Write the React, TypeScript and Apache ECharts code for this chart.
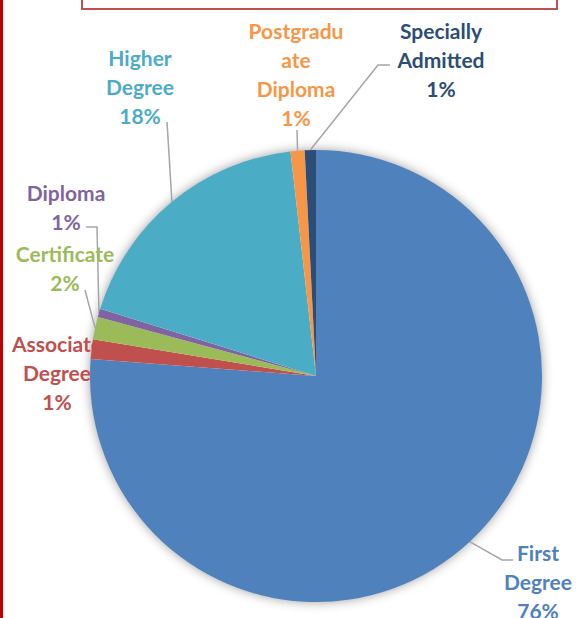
import React, { useEffect, useRef } from "react";
import * as echarts from "echarts";

// ---- data ----
const categories = [
  "First Degree",
  "Associate Degree",
  "Certificate",
  "Diploma",
  "Higher Degree",
  "Postgraduate Diploma",
  "Specially Admitted",
];
const shares = [76.2, 1.4, 1.6, 0.6, 18.4, 1.0, 0.8];
const labelTexts = [
  "First\nDegree",
  "Associate\nDegree",
  "Certificate",
  "Diploma",
  "Higher\nDegree",
  "Postgradu\nate\nDiploma",
  "Specially\nAdmitted",
];

// ---- styles / layout ----
const colors = ["#4F81BD", "#C0504D", "#9BBB59", "#8064A2", "#4BACC6", "#F79646", "#2C4D75"];
const CX = 316;
const CY = 376;
const R = 226;
// label block centres and leader-line bends (after the slice edge point)
const labelPlacement: { x: number; y: number; bends: number[][] | null }[] = [
  { x: 538, y: 581, bends: [[502, 560], [513, 560]] },
  { x: 57, y: 372, bends: null },
  { x: 65, y: 268, bends: [[85, 290]] },
  { x: 66, y: 207, bends: [[97, 227], [86, 227]] },
  { x: 140, y: 86, bends: [[167, 122]] },
  { x: 296, y: 74, bends: [[297, 130]] },
  { x: 441, y: 59, bends: [[378, 65], [390, 65]] },
];

export default function App() {
  const ref = useRef<HTMLDivElement>(null);
  useEffect(() => {
    if (!ref.current) return;
    const chart = echarts.init(ref.current, undefined, { renderer: "svg" });
    const data = categories.map((name, i) => ({
      name,
      value: shares[i],
      itemStyle: { color: colors[i] },
      label: { color: colors[i] },
      labelLine: { show: labelPlacement[i].bends !== null },
    }));
    chart.setOption({
      animation: false,
      backgroundColor: "#ffffff",
      graphic: [
        {
          type: "rect",
          z: 0,
          shape: { x: 0, y: 0, width: 3, height: 618 },
          style: { fill: "#C00000" },
        },
        {
          type: "rect",
          z: 0,
          shape: { x: 82, y: -30, width: 475, height: 39 },
          style: { fill: "none", stroke: "#C0504D", lineWidth: 2 },
        },
        {
          type: "circle",
          z: 0,
          shape: { cx: CX, cy: CY, r: R - 1 },
          style: {
            fill: "#ffffff",
            shadowBlur: 12,
            shadowColor: "rgba(0,0,0,0.45)",
          },
        },
      ],
      series: [
        {
          type: "pie",
          center: [CX, CY],
          radius: R,
          startAngle: 90,
          clockwise: true,
          avoidLabelOverlap: false,
          itemStyle: { borderWidth: 0 },
          emphasis: { disabled: true },
          label: {
            show: true,
            position: "outside",
            fontFamily: "Lato",
            fontWeight: "bold",
            fontSize: 21,
            lineHeight: 29,
            align: "center",
            formatter: (p: any) => labelTexts[p.dataIndex] + "\n" + Math.round(p.percent) + "%",
          },
          labelLine: {
            show: true,
            lineStyle: { color: "#A6A6A6", width: 1.5 },
          },
          labelLayout: (params: any) => {
            const pl = labelPlacement[params.dataIndex];
            const out: any = {
              x: pl.x,
              y: pl.y,
              align: "center",
              verticalAlign: "middle",
            };
            if (pl.bends && params.labelLinePoints) {
              const start = params.labelLinePoints[0];
              const pts = [start, ...pl.bends];
              while (pts.length < 3) pts.push(pts[pts.length - 1]);
              out.labelLinePoints = pts;
            }
            return out;
          },
          data,
        },
      ],
    });
    return () => chart.dispose();
  }, []);
  return (
    <div
      ref={ref}
      style={{ position: "fixed", left: 0, top: 0, width: 577, height: 618, background: "#fff" }}
    />
  );
}
